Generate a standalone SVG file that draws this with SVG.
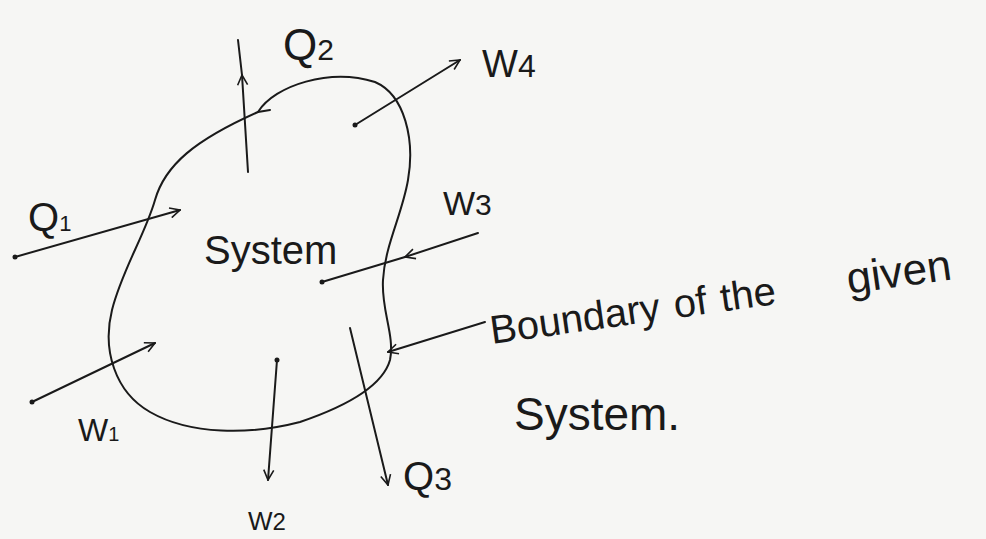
<svg xmlns="http://www.w3.org/2000/svg" width="986" height="539" viewBox="0 0 986 539">
<style>
.ln{stroke:#1a1a1a;stroke-width:2;fill:none;stroke-linecap:round}
.t{font-family:"Liberation Sans",Arial,sans-serif;fill:#1a1a1a}
.dot{fill:#1a1a1a}
</style>
<defs>
<marker id="ah" viewBox="0 0 12 12" refX="11" refY="6" markerWidth="12" markerHeight="12" markerUnits="userSpaceOnUse" orient="auto">
<path d="M1,1 L11,6 L1,11" fill="none" stroke="#1a1a1a" stroke-width="1.6"/>
</marker>
</defs>
<rect width="986" height="539" fill="#f6f6f4"/>
<g id="boundary">
<path class="ln" d="M258,112 C275,85 330,68 375,82 C405,95 415,140 408,180 C402,215 385,245 383,280 C381,310 395,335 390,360 C383,385 350,405 300,422 C250,435 190,435 150,412 C115,392 102,350 112,310 C122,270 145,235 155,200 C165,165 195,140 258,112 Z"/>
<path class="ln" d="M258,112 L270,110"/>
</g>
<g id="system"><text class="t" x="204" y="264" font-size="40">System</text></g>
<g id="connectors">
<line class="ln" x1="15" y1="257" x2="180" y2="210" marker-end="url(#ah)"/>
<line class="ln" x1="32" y1="402" x2="155" y2="343" marker-end="url(#ah)"/>
<line class="ln" x1="248" y1="172" x2="242" y2="75" marker-end="url(#ah)"/>
<line class="ln" x1="242" y1="75" x2="238" y2="40"/>
<line class="ln" x1="355" y1="125" x2="460" y2="60" marker-end="url(#ah)"/>
<line class="ln" x1="478" y1="233" x2="405" y2="257" marker-end="url(#ah)"/>
<line class="ln" x1="405" y1="257" x2="322" y2="282"/>
<line class="ln" x1="277" y1="360" x2="268" y2="480" marker-end="url(#ah)"/>
<line class="ln" x1="350" y1="328" x2="388" y2="485" marker-end="url(#ah)"/>
<line class="ln" x1="485" y1="322" x2="388" y2="352" marker-end="url(#ah)"/>
<circle class="dot" cx="15" cy="257" r="2.5"/>
<circle class="dot" cx="32" cy="402" r="2.5"/>
<circle class="dot" cx="355" cy="125" r="2.5"/>
<circle class="dot" cx="322" cy="282" r="2.5"/>
<circle class="dot" cx="277" cy="360" r="2.5"/>
</g>
<g id="labels">
<text class="t" x="28" y="231" font-size="40">Q<tspan font-size="22">1</tspan></text>
<text class="t" x="283" y="60" font-size="44">Q<tspan font-size="30">2</tspan></text>
<text class="t" x="482" y="77" font-size="38">W<tspan font-size="32">4</tspan></text>
<text class="t" x="443" y="215" font-size="34">W<tspan font-size="30">3</tspan></text>
<text class="t" x="78" y="441" font-size="32">W<tspan font-size="20">1</tspan></text>
<text class="t" x="248" y="530" font-size="26">W<tspan font-size="24">2</tspan></text>
<text class="t" x="403" y="490" font-size="40">Q<tspan font-size="32">3</tspan></text>
<text class="t" x="492" y="344" font-size="40" transform="rotate(-8 492 344)">Boundary<tspan dx="14">of</tspan><tspan dx="14">the</tspan><tspan dx="72" font-size="44">given</tspan></text>
<text class="t" x="514" y="430" font-size="46">System.</text>
</g>
</svg>
